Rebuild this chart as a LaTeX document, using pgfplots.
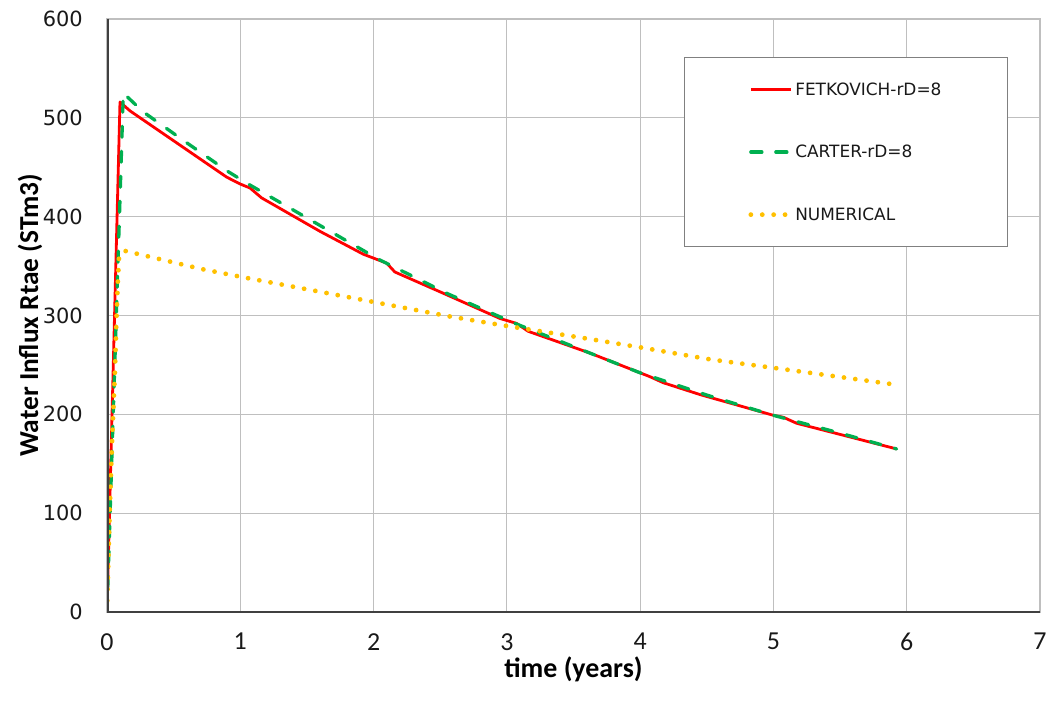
\documentclass[border=0pt]{standalone}
\usepackage{pgfplots}
\pgfplotsset{compat=1.18}
\usepackage{fontspec}
\setmainfont{Carlito}
\newfontfamily\dejavu{DejaVu Sans}
\definecolor{exred}{HTML}{FF0000}
\definecolor{exgreen}{HTML}{00B050}
\definecolor{exyellow}{HTML}{FFC000}
\definecolor{gridgray}{HTML}{BFBFBF}
\definecolor{axdark}{HTML}{404040}
\begin{document}
\begin{tikzpicture}
\begin{axis}[
  name=ax,
  scale only axis,
  width=933bp, height=593bp,
  xmin=0, xmax=7, ymin=0, ymax=600,
  xtick={0,1,...,7}, ytick={0,100,...,600},
  major tick length=0pt,
  grid=major,
  grid style={draw=gridgray, line width=1bp},
  axis line style={draw=gridgray, line width=1.2bp},
  /pgf/number format/assume math mode=true,
  xticklabel style={font=\fontsize{26}{30}\selectfont, text=black!90, anchor=north, inner sep=0pt, yshift=-21bp},
  yticklabel style={font=\dejavu\fontsize{21}{25}\selectfont, text=black!90, anchor=east, inner sep=0pt, xshift=-24bp},
  xlabel={time (years)},
  ylabel={Water Influx Rtae (STm3)},
  xlabel style={font=\bfseries\fontsize{28}{32}\selectfont, at={(axis description cs:0.5,-0.0759)}, anchor=north, inner sep=0pt},
  ylabel style={font=\bfseries\fontsize{27.5}{32}\selectfont, at={(axis description cs:-0.0825,0.5)}, anchor=center, inner sep=0pt},
  legend style={at={(axis description cs:0.6184,0.9359)}, anchor=north west,
    draw=gray, line width=1bp, inner xsep=64bp, inner ysep=23bp, row sep=44.5bp,
    font=\dejavu\fontsize{17}{20}\selectfont, text=black!90, cells={anchor=west}},
  legend image code/.code={\draw[#1] (0bp,0bp) -- (40bp,0bp);},
]
\addplot[exred, line width=2.8bp, line join=round] coordinates {
(0,0) (0.0975,516) (0.173,507) (0.898,440) (1.0,433) (1.073,429) (1.16,419)
(1.6,385) (1.923,362) (2.098,353) (2.16,344) (2.498,324) (2.948,297) (3.073,292)
(3.16,284) (3.623,262) (4.0,242) (4.075,238) (4.173,232) (4.449,220) (5.0,199)
(5.075,197) (5.173,191) (5.924,165)
};
\addlegendentry{FETKOVICH-rD=8}
\addplot[exgreen, line width=3.3bp, dash pattern=on 11bp off 14bp, line cap=round] coordinates {
(0,0) (0.1225,525) (0.272,506) (0.585,476) (0.91,445.5) (1.06,433) (1.548,395)
(2.036,357) (2.548,322.5) (3.048,292.7) (3.623,262) (4.0,242) (4.5,219.5)
(5.0,199) (5.5,181) (5.924,165)
};
\addlegendentry{CARTER-rD=8}
\addplot[exyellow, line width=4.8bp, dash pattern=on 0bp off 11.4bp, line cap=round] coordinates {
(0,0) (0.02,100) (0.04,180) (0.06,245) (0.07,292) (0.08,330) (0.09,358)
(0.1275,365.6) (0.71,347) (1.048,338) (1.56,325) (2.066,312) (2.573,299)
(3.0,289.4) (3.585,277) (4.016,267.4) (4.525,255.6) (5.036,246.4) (5.92,230)
};
\addlegendentry{NUMERICAL}
\draw[line width=3bp, axdark] (rel axis cs:0,1) -- (rel axis cs:0,0) -- (rel axis cs:1,0);
\end{axis}
\pgfresetboundingbox
\path ([shift={(-107bp,-88bp)}]ax.south west) rectangle ([shift={(13bp,19bp)}]ax.north east);
\end{tikzpicture}
\end{document}
